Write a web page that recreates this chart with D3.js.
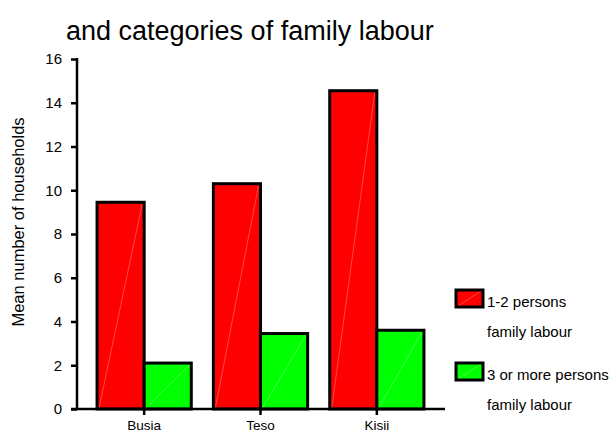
<!DOCTYPE html>
<html>
<head>
<meta charset="utf-8">
<script src="https://cdn.jsdelivr.net/npm/d3@7/dist/d3.min.js"></script>
<style>
  html, body { margin: 0; padding: 0; background: #fff; }
  svg { display: block; font-family: "Liberation Sans", Arial, sans-serif; }
</style>
</head>
<body>
<svg id="chart" width="610" height="441"></svg>
<script>
// Mean number of households by district and category of family labour
const districts = ["Busia", "Teso", "Kisii"];
const seriesNames = ["1-2 persons family labour", "3 or more persons family labour"];
const smallLabour = [9.45, 10.3, 14.55];   // 1-2 persons
const largeLabour = [2.1, 3.45, 3.6];      // 3 or more persons
const yTicks = [0, 2, 4, 6, 8, 10, 12, 14, 16];
const seriesColors = ["#ff0000", "#00ff00"];
const legendLines = [["1-2 persons", "family labour"], ["3 or more persons", "family labour"]];

const rows = districts.map((d, i) => ({ district: d, values: [smallLabour[i], largeLabour[i]] }));

const svg = d3.select("#chart");
const fontFamily = "Liberation Sans, Arial, sans-serif";

const y = d3.scaleLinear().domain([0, 16]).range([409, 59]);
const x = d3.scaleBand().domain(districts).range([86, 435])
  .paddingInner(0.19).paddingOuter(0.095);
const xs = d3.scaleBand().domain([0, 1]).range([0, x.bandwidth()]);

// title (second line of the heading)
svg.append("text")
  .attr("x", 66).attr("y", 40)
  .attr("font-size", 27)
  .attr("fill", "#000")
  .text("and categories of family labour");

// bars
const groups = svg.append("g").selectAll("g").data(rows).join("g")
  .attr("transform", d => `translate(${x(d.district)},0)`);

groups.selectAll("g.bar").data(d => d.values.map((v, k) => ({ v, k }))).join("g")
  .attr("class", "bar")
  .each(function (d) {
    const g = d3.select(this);
    const x0 = xs(d.k), w = xs.bandwidth();
    const top = y(d.v), bottom = y(0);
    g.append("rect")
      .attr("x", x0).attr("y", top)
      .attr("width", w).attr("height", bottom - top)
      .attr("fill", seriesColors[d.k]);
    // faint seam across the fill
    g.append("line")
      .attr("x1", x0 + 2).attr("y1", bottom - 1)
      .attr("x2", x0 + w - 2).attr("y2", top + 2)
      .attr("stroke", "#fff").attr("stroke-opacity", 0.35).attr("stroke-width", 0.8);
    g.append("rect")
      .attr("x", x0).attr("y", top)
      .attr("width", w).attr("height", bottom - top)
      .attr("fill", "none").attr("stroke", "#000").attr("stroke-width", 3);
  });

// y axis
const yAxis = d3.axisLeft(y).tickValues(yTicks).tickSize(6).tickPadding(9).tickFormat(d3.format("d"));
const gy = svg.append("g").attr("transform", "translate(77,0)").call(yAxis);
gy.select(".domain").remove();
gy.append("line").attr("x1", 0).attr("x2", 0).attr("y1", y(16) - 1).attr("y2", y(0))
  .attr("stroke", "#000").attr("stroke-width", 2.5);
gy.selectAll(".tick line").attr("stroke", "#000").attr("stroke-width", 2.5);
gy.selectAll(".tick text").attr("font-size", 15).attr("fill", "#000")
  .attr("font-family", fontFamily);

// x axis
const xAxis = d3.axisBottom(x).tickSize(6).tickPadding(5);
const gx = svg.append("g").attr("transform", `translate(0,${y(0)})`).call(xAxis);
gx.select(".domain").remove();
gx.append("line").attr("x1", 71).attr("x2", 445).attr("y1", 0).attr("y2", 0)
  .attr("stroke", "#000").attr("stroke-width", 2.5);
gx.selectAll(".tick line").attr("stroke", "#000").attr("stroke-width", 2.5);
gx.selectAll(".tick text").attr("font-size", 13.5).attr("fill", "#000")
  .attr("font-family", fontFamily);

// y axis title
svg.append("text")
  .attr("transform", "translate(24,222) rotate(-90)")
  .attr("text-anchor", "middle")
  .attr("font-size", 16.5)
  .attr("fill", "#000")
  .text("Mean number of households");

// legend
const legend = svg.append("g").attr("transform", "translate(456,290)");
const lg = legend.selectAll("g").data(seriesNames).join("g")
  .attr("transform", (d, i) => `translate(0,${i * 73})`);
lg.append("rect").attr("x", 0).attr("y", 0).attr("width", 27).attr("height", 17)
  .attr("fill", (d, i) => seriesColors[i]);
lg.append("line").attr("x1", 2).attr("y1", 16).attr("x2", 25).attr("y2", 1)
  .attr("stroke", "#fff").attr("stroke-opacity", 0.35).attr("stroke-width", 0.8);
lg.append("rect").attr("x", 0).attr("y", 0).attr("width", 27).attr("height", 17)
  .attr("fill", "none").attr("stroke", "#000").attr("stroke-width", 3);
lg.each(function (d, i) {
  const g = d3.select(this);
  legendLines[i].forEach((line, j) => {
    g.append("text")
      .attr("x", 31).attr("y", 17 + j * 30)
      .attr("font-size", 15)
      .attr("fill", "#000")
      .text(line);
  });
});
</script>
</body>
</html>
